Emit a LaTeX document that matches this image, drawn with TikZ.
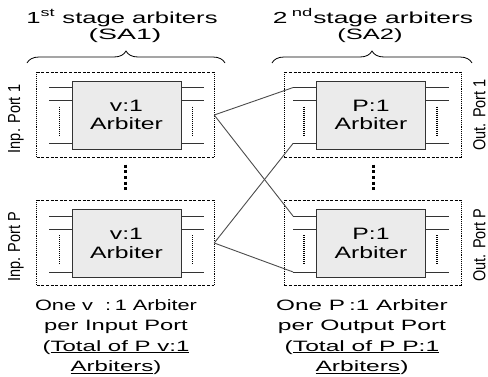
\documentclass[tikz,border=0pt]{standalone}
\usepackage{fontspec}
\usepackage{graphicx}
\setmainfont{Liberation Sans}
\usetikzlibrary{decorations.pathreplacing}
\newcommand\wide[2][1.2]{\scalebox{#1}[1]{#2}}

\begin{document}
\begin{tikzpicture}[x=1pt,y=-1pt,
  arbbox/.style={draw=black!80, fill=black!8, line width=0.9pt, minimum width=109pt,
    minimum height=68pt, align=center, inner sep=0pt, font=\fontsize{16.5}{18.5}\selectfont},
  stagebox/.style={minimum width=177pt, minimum height=85pt, inner sep=0pt},
  hedge/.style={line width=1.1pt, dash pattern=on 3pt off 1.6pt},
  vedge/.style={line width=1.3pt, dash pattern=on 1pt off 0.9pt},
  pin/.style={line width=0.8pt, black!80},
  pindots/.style={line width=1.6pt, dash pattern=on 1pt off 1pt},
  vdots/.style={line width=3pt, dash pattern=on 3pt off 2.6pt},
  wire/.style={line width=0.9pt, black!70},
  portlbl/.style={rotate=90, inner sep=0pt, font=\fontsize{14.5}{16}\selectfont},
  title/.style={anchor=base, inner sep=0pt, font=\fontsize{16}{18}\selectfont},
  note/.style={anchor=north, align=center, inner sep=0pt, font=\fontsize{15}{20.5}\selectfont}]
\useasboundingbox (0,0) rectangle (488,376);

% stage boxes (one per port)
\node[stagebox] (inA) at (125.5,115) {};
\node[stagebox] (inP) at (125.5,243) {};
\node[stagebox] (outA) at (373,115) {};
\node[stagebox] (outP) at (373,243) {};
\foreach \b in {inA,inP,outA,outP} {
  \draw[hedge] (\b.north west) -- (\b.north east);
  \draw[hedge] (\b.south west) -- (\b.south east);
  \draw[vedge] (\b.north west) -- (\b.south west);
  \draw[vedge] (\b.north east) -- (\b.south east);
}

% arbiters
\node[arbbox] (va1) at (126.5,115) {\wide[1.5]{v:1}\\\wide[1.5]{Arbiter}};
\node[arbbox] (vaP) at (126.5,243.5) {\wide[1.5]{v:1}\\\wide[1.5]{Arbiter}};
\node[arbbox] (pa1) at (371,115) {\wide[1.5]{P:1}\\\wide[1.5]{Arbiter}};
\node[arbbox] (paP) at (371,243.5) {\wide[1.5]{P:1}\\\wide[1.5]{Arbiter}};
\foreach \a in {va1,vaP,pa1,paP} {
  \draw[pin] ([yshift=-7pt]\a.north west) -- ++(-23,0) coordinate (\a-in1);
  \draw[pin] ([yshift=-20pt]\a.north west) -- ++(-23,0) coordinate (\a-in2);
  \draw[pin] ([yshift=6pt]\a.south west) -- ++(-23,0) coordinate (\a-inP);
  \draw[pin] ([yshift=-7pt]\a.north east) -- ++(23,0);
  \draw[pin] ([yshift=-20pt]\a.north east) -- ++(23,0);
  \draw[pin] ([yshift=6pt]\a.south east) -- ++(23,0);
  \draw[pindots] ([xshift=-12pt,yshift=-26pt]\a.north west) -- ([xshift=-12pt,yshift=14pt]\a.south west);
  \draw[pindots] ([xshift=11pt,yshift=-26pt]\a.north east) -- ([xshift=11pt,yshift=14pt]\a.south east);
}

% more ports
\draw[vdots] ([yshift=-7pt]inA.south) -- ([yshift=8pt]inP.north);
\draw[vdots] ([yshift=-7pt]outA.south) -- ([yshift=8pt]outP.north);

% SA1 -> SA2
\draw[wire] (inA.east) -- (pa1-in1);
\draw[wire] (inA.east) -- (paP-in1);
\draw[wire] (inP.east) -- (pa1-inP);
\draw[wire] (inP.east) -- (paP-inP);

% headings
\node[title] (t1) at (122,23) {\wide[1.6]{1\textsuperscript{st} stage arbiters}};
\node[title, font=\fontsize{15}{17}\selectfont] (s1) at (125,39) {\wide[1.9]{(SA1)}};
\node[title] (t2) at (373,23) {\wide[1.65]{2\,\textsuperscript{nd}stage arbiters}};
\node[title, font=\fontsize{15}{17}\selectfont] (s2) at (370,39) {\wide[1.7]{(SA2)}};
\draw[decorate, decoration={brace, amplitude=12pt}, line width=0.8pt] (27,63) -- (225,63);
\draw[decorate, decoration={brace, amplitude=12pt}, line width=0.8pt] (272,63) -- (472,63);

% port labels
\node[portlbl] (li1) at (16,119) {\scalebox{1}[1.2]{Inp. Port 1}};
\node[portlbl] (liP) at (16,247) {\scalebox{1}[1.2]{Inp. Port P}};
\node[portlbl] (lo1) at (479.5,115) {\scalebox{1}[1.2]{Out. Port 1}};
\node[portlbl] (loP) at (479.5,245) {\scalebox{1}[1.2]{Out. Port P}};

% notes
\node[note] (n1) at (116,299) {\wide[1.45]{One v\ \ :\,1 Arbiter}\\\wide[1.58]{per Input Port}\\
  \wide[1.6]{(\underline{Total of P v:1}}\\\wide[1.6]{\underline{Arbiters})}};
\node[note] (n2) at (362,299) {\wide[1.62]{One P\,:1 Arbiter}\\\wide[1.64]{per Output Port}\\
  \wide[1.64]{(\underline{Total of P P:1}}\\\wide[1.64]{\underline{Arbiters})}};
\end{tikzpicture}
\end{document}
